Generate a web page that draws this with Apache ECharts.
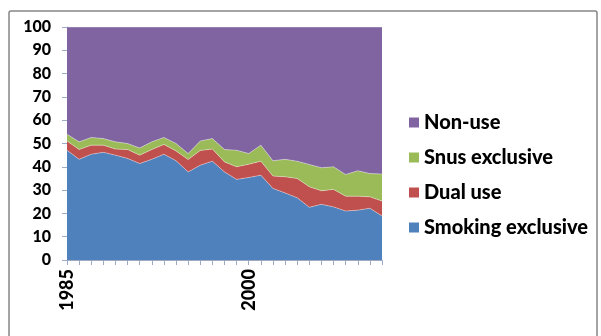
<!DOCTYPE html>
<html>
<head>
<meta charset="utf-8">
<script src="https://cdn.jsdelivr.net/npm/echarts@6/dist/echarts.min.js"></script>
<style>
  html, body { margin: 0; padding: 0; background: #ffffff; }
  #chart { width: 601px; height: 336px; }
</style>
</head>
<body>
<div id="chart"></div>
<script>
// Survey years
const years = ['1985','1986','1987','1988','1989','1990','1991','1992','1993','1994',
  '1995','1996','1997','1998','1999','2000','2001','2002','2003','2004',
  '2005','2006','2007','2008','2009','2010','2011'];

// Share of population (%) per tobacco-use group
const smokingExclusive = [47.1,43.2,45.4,46.2,45.0,43.6,41.4,43.2,45.4,42.6,
  37.8,40.7,42.4,37.8,34.6,35.4,36.4,30.7,28.8,26.7,
  22.6,23.9,22.8,21.0,21.4,22.2,18.9];
const dualUse = [4.0,4.2,3.9,3.1,2.6,3.8,3.6,4.2,4.2,4.2,
  5.3,6.3,5.2,4.3,5.4,5.7,6.0,5.3,6.9,8.3,
  8.8,5.8,7.5,6.4,6.0,4.9,6.4];
const snusExclusive = [2.9,3.3,3.3,2.8,3.1,2.6,3.1,3.3,3.0,3.2,
  2.6,4.1,4.5,5.3,7.1,4.6,6.9,6.6,7.5,7.4,
  9.6,9.9,9.7,9.3,10.9,10.0,11.6];
const nonUse = [46.0,49.3,47.4,47.9,49.3,50.0,51.9,49.3,47.4,50.0,
  54.3,48.9,47.9,52.6,52.9,54.3,50.7,57.4,56.8,57.6,
  59.0,60.4,60.0,63.3,61.7,62.9,63.1];

// Y axis ticks
const yTicks = [0,10,20,30,40,50,60,70,80,90,100];

const chart = echarts.init(document.getElementById('chart'), null, { renderer: 'canvas' });
const font = 'Lato, "Open Sans", sans-serif';

function areaSeries(name, data, color) {
  return {
    name: name,
    type: 'line',
    stack: 'total',
    data: data,
    symbol: 'none',
    smooth: false,
    lineStyle: { width: 0.8, color: 'rgba(255,255,255,0.45)' },
    itemStyle: { color: color },
    areaStyle: { color: color, opacity: 1 },
    emphasis: { disabled: true }
  };
}

chart.setOption({
  animation: false,
  backgroundColor: '#ffffff',
  graphic: [{
    type: 'rect',
    shape: { x: 9, y: 11, width: 588, height: 340, r: 2 },
    style: { fill: 'none', stroke: '#868686', lineWidth: 1.5 },
    z: 100
  }],
  grid: { left: 67, right: 219, top: 27, bottom: 76 },
  legend: {
    orient: 'vertical',
    left: 404,
    top: 107,
    itemWidth: 10,
    itemHeight: 10,
    itemGap: 14,
    icon: 'rect',
    data: ['Non-use', 'Snus exclusive', 'Dual use', 'Smoking exclusive'],
    textStyle: { fontFamily: font, fontWeight: 900, fontSize: 20, color: '#000', lineHeight: 21 }
  },
  xAxis: {
    type: 'category',
    data: years,
    boundaryGap: false,
    axisLine: { lineStyle: { color: '#9daac4', width: 1 } },
    axisTick: { interval: 0, length: 5, lineStyle: { color: '#9daac4' } },
    axisLabel: {
      interval: 14,
      rotate: 90,
      margin: 9,
      fontFamily: font,
      fontWeight: 900,
      fontSize: 18,
      color: '#000'
    },
    splitLine: { show: false }
  },
  yAxis: {
    type: 'value',
    min: yTicks[0],
    max: yTicks[yTicks.length - 1],
    interval: yTicks[1] - yTicks[0],
    axisLine: { show: true, lineStyle: { color: '#9daac4' } },
    axisTick: { show: true, length: 5, lineStyle: { color: '#9daac4' } },
    axisLabel: {
      margin: 16,
      fontFamily: font,
      fontWeight: 900,
      fontSize: 16,
      color: '#000'
    },
    splitLine: { show: false }
  },
  series: [
    areaSeries('Smoking exclusive', smokingExclusive, '#4F81BD'),
    areaSeries('Dual use', dualUse, '#C0504D'),
    areaSeries('Snus exclusive', snusExclusive, '#9BBB59'),
    areaSeries('Non-use', nonUse, '#8064A2')
  ]
});
</script>
</body>
</html>
